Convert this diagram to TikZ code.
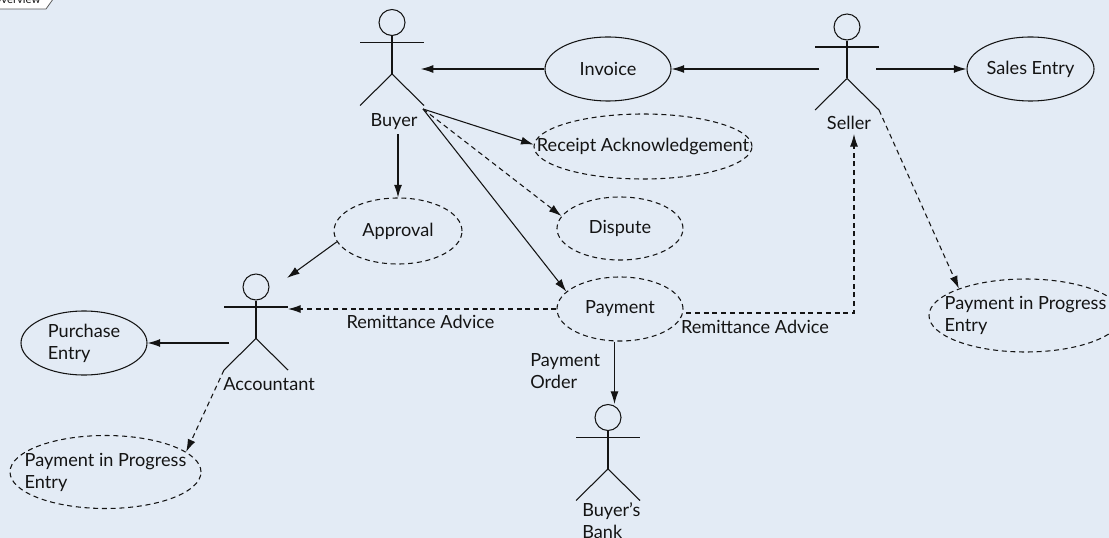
\documentclass[tikz,border=0pt]{standalone}
\usepackage{fontspec}
\setmainfont{Lato}
\usetikzlibrary{arrows.meta}
\usetikzlibrary{shapes.geometric}

\definecolor{paneblue}{RGB}{227,235,245}
\definecolor{inkgrey}{RGB}{20,20,20}

\tikzset{
	flow/.style={inkgrey,line width=0.8pt,arrows={-Latex[length=9.5pt,width=6pt]}},
	dashflow/.style={flow,dash pattern=on 3.75pt off 2.8pt},
	usecase/.style={ellipse,draw=inkgrey,line width=0.8pt,inner sep=-40pt,align=left,text=inkgrey},
	dashcase/.style={usecase,dash pattern=on 3.75pt off 2.8pt},
	caption/.style={inner sep=0pt,align=left,text=inkgrey},
	actor/.pic={
		\node[circle,draw=inkgrey,line width=0.8pt,minimum size=19.5pt,inner sep=0pt] (-head) at (0,0) {};
		\coordinate (-larm) at (-32,20);
		\coordinate (-rarm) at (32,20);
		\coordinate (-hip) at (0,51.5);
		\coordinate (-lfoot) at (-32,83);
		\coordinate (-rfoot) at (32,83);
		\draw[inkgrey,line width=0.8pt] (-larm) -- (-rarm);
		\draw[inkgrey,line width=0.8pt] (-head) -- (-hip);
		\draw[inkgrey,line width=0.8pt] (-lfoot) -- (-hip) -- (-rfoot);
	}
}

\begin{document}
\begin{tikzpicture}[x=0.75pt,y=-0.75pt,font=\fontsize{13.6pt}{16.5pt}\selectfont]

	\useasboundingbox[fill=paneblue] (0,0) rectangle (1109,538);

	% tab in the corner
	\draw[fill=white,draw=inkgrey!70,line width=0.6pt] (-5,-5) -- (56,-5) -- (46,9) -- (-5,9);
	\node[caption,anchor=base west,font=\fontsize{8.5pt}{10pt}\selectfont] (tab) at (-8,4) {Overview};

	% actors
	\pic (buyer) at (392,22.5) {actor};
	\pic (seller) at (847,27) {actor};
	\pic (accountant) at (256,287) {actor};
	\pic (bank) at (608,417.5) {actor};

	%labels actors
	\node[caption] (buyerlabel) at (394,122) {Buyer};
	\node[caption] (sellerlabel) at (849,123) {Seller};
	\node[caption] (accountantlabel) at (269,384) {Accountant};
	\node[caption,anchor=north west] (banklabel) at (582,502) {Buyer’s\\Bank};

	% solid use cases
	\node[usecase,minimum width=94.5pt,minimum height=48pt] (invoice) at (608,69) {Invoice};
	\node[usecase,minimum width=95.25pt,minimum height=48pt] (sales) at (1030.5,69) {Sales Entry};
	\node[usecase,minimum width=94.5pt,minimum height=48pt] (purchase) at (84,343) {Purchase\\Entry};

	% dashed use cases
	\node[dashcase,minimum width=163.5pt,minimum height=48.75pt] (receipt) at (643,146.5) {Receipt Acknowledgement};
	\node[dashcase,minimum width=94.5pt,minimum height=47.25pt] (dispute) at (620,228.5) {Dispute};
	\node[dashcase,minimum width=96pt,minimum height=49.5pt] (approval) at (398,231) {Approval};
	\node[dashcase,minimum width=94.5pt,minimum height=48pt] (payment) at (620,309) {Payment};
	\node[dashcase,minimum width=143.25pt,minimum height=54.75pt] (progressleft) at (105.5,472) {Payment in Progress\\Entry};
	\node[dashcase,minimum width=144.75pt,minimum height=54.75pt] (progressright) at (1025.5,315.5) {Payment in Progress\\Entry};

	%labels connectors
	\node[caption] (adviceleft) at (420.5,322) {Remittance Advice};
	\node[caption] (adviceright) at (755,327) {Remittance Advice};
	\node[caption,anchor=west] (order) at (530,371.5) {Payment\\Order};

	% free ends
	\coordinate (buyerfoot) at (423,109);
	\coordinate (accountantin) at (287,278);
	\coordinate (banktop) at (614.5,404);
	\coordinate (sellerin) at (854,134);
	\coordinate (corner) at (854,313);

	% solid connectors
	\draw[flow,shorten >=-2.5pt] (invoice) -- (buyer-rarm |- invoice);
	\draw[flow,shorten <=-3pt] (seller-larm |- invoice) -- (invoice);
	\draw[flow,shorten <=-2.25pt] (seller-rarm |- sales) -- (sales);
	\draw[flow] (buyerfoot) -- (receipt.179);
	\draw[flow] (buyerfoot) -- (payment.162);
	\draw[flow,shorten <=3pt] (buyerlabel.south -| approval) -- (approval);
	\draw[flow] (approval.190) -- (accountantin);
	\draw[flow,shorten <=-3.75pt] (accountant-larm |- purchase) -- (purchase);
	\draw[flow] (banktop |- payment.south) -- (banktop);

	% dashed connectors
	\draw[dashflow] (buyerfoot) -- (dispute.168);
	\draw[dashflow] (payment) -- (accountant-rarm |- payment);
	\draw[dashflow] (accountant-lfoot) -- (progressleft.14);
	\draw[dashflow,shorten <=2pt] (payment.east |- corner) -- (corner) -- (sellerin);
	\draw[dashflow] (seller-rfoot) -- (progressright.158);

\end{tikzpicture}
\end{document}
